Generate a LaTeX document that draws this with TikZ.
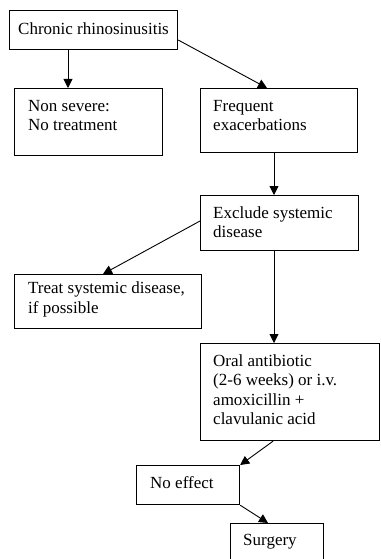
\documentclass[tikz,border=0pt]{standalone}
\usepackage{fontspec}
\setmainfont{Liberation Serif}
\usetikzlibrary{arrows.meta,calc}
\begin{document}
\begin{tikzpicture}[x=1pt,y=-1pt,
  box/.style={draw, line width=1.2pt, rectangle, inner sep=0pt, anchor=north west},
  txt/.style={anchor=base west, inner sep=0pt, font=\fontsize{17}{19.5}\selectfont},
  arr/.style={line width=0.9pt, -{Triangle[length=9pt,width=9pt]}}]
\clip (0,0) rectangle (380,559);
\fill[white] (0,0) rectangle (380,559);
% boxes
\node[box, minimum width=168, minimum height=39] (c)  at (9,10) {};
\node[box, minimum width=148, minimum height=67] (ns) at (14,88) {};
\node[box, minimum width=157, minimum height=64] (fe) at (200,88) {};
\node[box, minimum width=158, minimum height=55] (ex) at (200,195) {};
\node[box, minimum width=187, minimum height=54] (tr) at (14,274) {};
\node[box, minimum width=179, minimum height=97] (or) at (200,343) {};
\node[box, minimum width=103, minimum height=39] (ne) at (136,465) {};
\node[box, minimum width=93, minimum height=50] (su) at (230,523) {};
% texts
\node[txt] (t1) at (18,35) {Chronic rhinosinusitis};
\node[txt] (t2) at (28,112) {Non severe:};
\node[txt] (t3) at (28,131) {No treatment};
\node[txt] (t4) at (213,112) {Frequent};
\node[txt] (t5) at (213,131) {exacerbations};
\node[txt] (t6) at (213,218) {Exclude systemic};
\node[txt] (t7) at (213,237) {disease};
\node[txt] (t8) at (28,293) {Treat systemic disease,};
\node[txt] (t9) at (28,313) {if possible};
\node[txt] (t10) at (213,366) {Oral antibiotic};
\node[txt] (t11) at (213,385) {(2-6 weeks) or i.v.};
\node[txt] (t12) at (213,405) {amoxicillin +};
\node[txt] (t13) at (213,424) {clavulanic acid};
\node[txt] (t14) at (150,488) {No effect};
\node[txt] (t15) at (243,545) {Surgery};
% arrows
\draw[arr] ($(c.south west)+(59,0)$) -- ($(ns.north west)+(54,0)$);
\draw[arr] ($(c.north east)+(0,30)$) -- ($(fe.north west)+(67,0)$);
\draw[arr] ($(fe.south west)+(74,0)$) -- ($(ex.north west)+(74,0)$);
\draw[arr] ($(ex.north west)+(0,26)$) -- ($(tr.north west)+(89,0)$);
\draw[arr] ($(ex.south west)+(74,0)$) -- ($(or.north west)+(74,0)$);
\draw[arr] ($(or.south west)+(73,0)$) -- (ne.north east);
\draw[arr] (ne.south east) -- ($(su.north west)+(38,0)$);
\end{tikzpicture}
\end{document}
